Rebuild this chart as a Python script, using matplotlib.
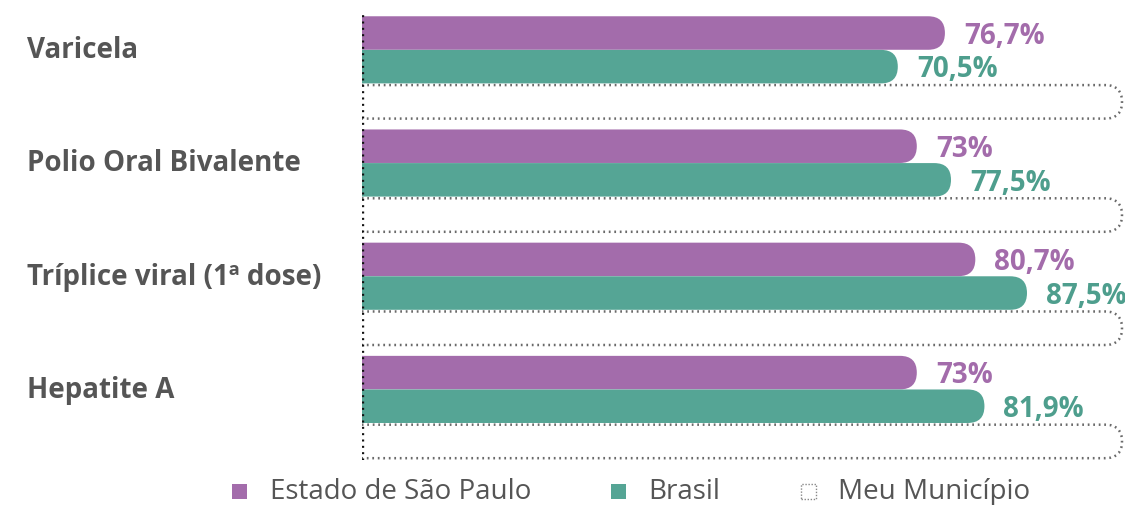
import matplotlib
matplotlib.use("Agg")
import matplotlib.pyplot as plt
from matplotlib.patches import FancyBboxPatch, Rectangle

categories = ["Varicela", "Polio Oral Bivalente", "Tríplice viral (1ª dose)", "Hepatite A"]
sp_values = [76.7, 73.0, 80.7, 73.0]
br_values = [70.5, 77.5, 87.5, 81.9]
sp_labels = ["76,7%", "73%", "80,7%", "73%"]
br_labels = ["70,5%", "77,5%", "87,5%", "81,9%"]
legend_labels = ["Estado de São Paulo", "Brasil", "Meu Município"]
full_value = 100

PURPLE = "#A36CAB"
TEAL = "#55A595"
PURPLE_T = "#A36CAB"
TEAL_T = "#4E9E8D"
GRAY = "#555555"

plt.rcParams['font.family'] = ['Open Sans', 'DejaVu Sans']

W_PX, H_PX = 1125, 506
fig = plt.figure(figsize=(W_PX / 100, H_PX / 100), dpi=100)
ax_left, ax_right = 362, 1124
ax_top, ax_bot = 15, 461
ax = fig.add_axes([ax_left / W_PX, 1 - ax_bot / H_PX, (ax_right - ax_left) / W_PX, (ax_bot - ax_top) / H_PX])
xmax = (ax_right - ax_left) / 7.6
ax.set_xlim(0, xmax)
ax.set_ylim(3.42, -0.52)
ax.axis('off')

# pixel scales for round caps
px_x = xmax / (ax_right - ax_left)
px_y = 3.94 / (ax_bot - ax_top)
aspect = px_y / px_x

h = 0.296
off_sp, off_br, off_mm = -0.352, -0.055, 0.256


def rounded_bar(y, v, **kw):
    r = (h / 2) / aspect
    p = FancyBboxPatch((-r * 2, y - h / 2), v + r * 2, h,
                       boxstyle=f"round,pad=0,rounding_size={r}",
                       mutation_aspect=aspect, **kw)
    ax.add_patch(p)
    return p


for i, cat in enumerate(categories):
    rounded_bar(i + off_sp, sp_values[i], facecolor=PURPLE, edgecolor='none')
    rounded_bar(i + off_br, br_values[i], facecolor=TEAL, edgecolor='none')
    rounded_bar(i + off_mm, full_value, facecolor='white', edgecolor='#6a6a6a',
                linewidth=1.8, linestyle=(0, (0.7, 1.5)))
    ax.text(sp_values[i] + 19 * px_x, i + off_sp + 0.02, sp_labels[i], color=PURPLE_T,
            fontsize=20, fontweight='bold', va='center', ha='left', clip_on=False)
    ax.text(br_values[i] + 19 * px_x, i + off_br + 0.02, br_labels[i], color=TEAL_T,
            fontsize=20, fontweight='bold', va='center', ha='left', clip_on=False)
    ax.text(-335 * px_x, i - 0.205, cat, color=GRAY, fontsize=20, fontweight='bold',
            va='center', ha='left', clip_on=False)

ax.axvline(0, color='#111111', linewidth=2.4, linestyle=(0, (0.6, 1.3)))

# legend
ly = 1 - 492 / H_PX
sq = 15
def leg_square(x0, **kw):
    fig.patches.append(Rectangle((x0 / W_PX, ly - sq / 2 / H_PX), sq / W_PX, sq / H_PX,
                                 transform=fig.transFigure, **kw))

leg_square(232, facecolor=PURPLE, edgecolor='none')
leg_square(611, facecolor=TEAL, edgecolor='none')
leg_square(801, facecolor='white', edgecolor='#888888', linewidth=1.0, linestyle=(0, (1, 1.2)))
for x0, lab in zip([270, 648, 838], legend_labels):
    fig.text(x0 / W_PX, ly, lab, color=GRAY, fontsize=20, va='center', ha='left')

fig.savefig("out.png", dpi=100)
